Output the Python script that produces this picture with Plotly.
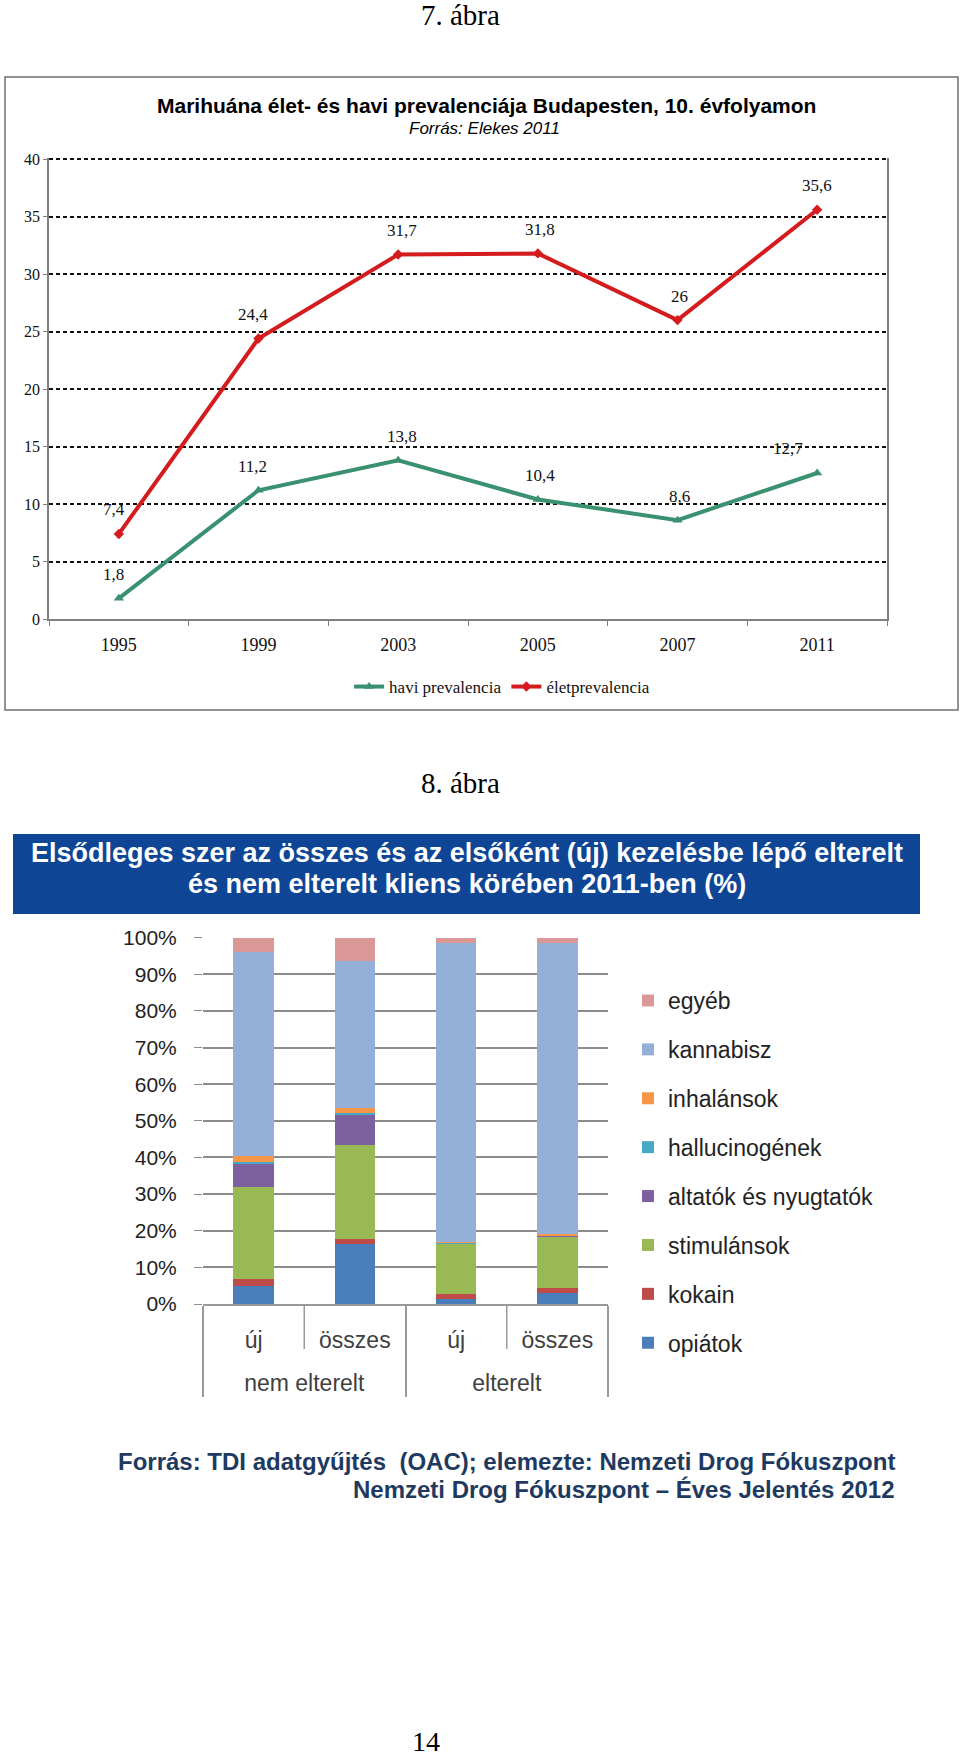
import plotly.graph_objects as go

W, H = 960, 1760

# 7. ábra - marihuána prevalencia
years = ["1995", "1999", "2003", "2005", "2007", "2011"]
havi = [1.8, 11.2, 13.8, 10.4, 8.6, 12.7]
elet = [7.4, 24.4, 31.7, 31.8, 26.0, 35.6]

# 8. ábra - elsődleges szer (%)
groups = ["nem elterelt", "nem elterelt", "elterelt", "elterelt"]
subgroups = ["új", "összes", "új", "összes"]
opiatok = [5.0, 16.4, 1.3, 2.9]
kokain = [1.9, 1.3, 1.4, 1.6]
stimulansok = [25.1, 25.7, 13.8, 14.0]
altatok = [6.3, 8.2, 0.1, 0.2]
hallucinogenek = [0.4, 0.6, 0.1, 0.1]
inhalansok = [1.7, 1.3, 0.2, 0.2]
kannabisz = [55.6, 40.2, 81.7, 79.6]
egyeb = [4.0, 6.3, 1.4, 1.4]

SERIF = "Liberation Serif, Times New Roman, serif"
SANS = "Liberation Sans, Arial, sans-serif"
NARROW = "Liberation Sans Narrow, Arial Narrow, Liberation Sans, sans-serif"
GREEN = "#3a9170"
RED = "#d41c1f"
GREY = "#808080"
BAR_GREY = "#9a9a9a"


def px_x(v):
    return v / W


def px_y(v):
    return 1 - v / H


fig = go.Figure()

fig.add_trace(go.Scatter(
    x=years, y=havi, mode="lines+markers", name="havi prevalencia",
    line=dict(color=GREEN, width=4),
    marker=dict(symbol="triangle-up", size=9, color=GREEN),
    xaxis="x", yaxis="y", legend="legend",
))
fig.add_trace(go.Scatter(
    x=years, y=elet, mode="lines+markers", name="életprevalencia",
    line=dict(color=RED, width=4),
    marker=dict(symbol="diamond", size=8, color=RED),
    xaxis="x", yaxis="y", legend="legend",
))

# inner labels get an empty second line so the group labels sit lower
inner = [s + "<br>\u00a0" for s in subgroups]
bar_series = [
    ("opiátok", opiatok, "#4a7ebb"),
    ("kokain", kokain, "#be4b48"),
    ("stimulánsok", stimulansok, "#98b954"),
    ("altatók és nyugtatók", altatok, "#7d60a0"),
    ("hallucinogének", hallucinogenek, "#46aac5"),
    ("inhalánsok", inhalansok, "#f79646"),
    ("kannabisz", kannabisz, "#95b0d8"),
    ("egyéb", egyeb, "#d99795"),
]
for rank, (name, vals, col) in enumerate(bar_series):
    fig.add_trace(go.Bar(
        x=[groups, inner], y=vals, name=name, marker_color=col,
        marker_line_width=0, legendgroup=name, legendrank=100 - rank,
        xaxis="x2", yaxis="y2", legend="legend2",
    ))

# data labels for the line chart (x given as category index)
label_dx = [-5, -6, 4, 2, 2, 0]
annotations = []
for series, dxs in ((havi, label_dx[:5] + [-29]), (elet, label_dx)):
    for i, (v, dx) in enumerate(zip(series, dxs)):
        annotations.append(dict(
            x=i, y=v, xref="x", yref="y", text=f"{v:g}".replace(".", ","),
            showarrow=False, yshift=24, xshift=dx,
            font=dict(family=SERIF, size=17, color="#111"),
        ))
n_labels = len(annotations)

annotations += [
    dict(x=px_x(460), y=px_y(15), text="7. ábra",
         font=dict(family=SERIF, size=29, color="#000")),
    dict(x=px_x(486), y=px_y(105),
         text="<b>Marihuána élet- és havi prevalenciája Budapesten, 10. évfolyamon</b>",
         font=dict(family=SANS, size=21, color="#000")),
    dict(x=px_x(484), y=px_y(128), text="<i>Forrás: Elekes 2011</i>",
         font=dict(family=SANS, size=17, color="#000")),
    dict(x=px_x(460), y=px_y(783), text="8. ábra",
         font=dict(family=SERIF, size=29, color="#000")),
    dict(x=px_x(467), y=px_y(853),
         text="<b>Elsődleges szer az összes és az elsőként (új) kezelésbe lépő elterelt</b>",
         font=dict(family=SANS, size=27, color="#ffffff")),
    dict(x=px_x(467), y=px_y(884),
         text="<b>és nem elterelt kliens körében 2011-ben (%)</b>",
         font=dict(family=SANS, size=27, color="#ffffff")),
    dict(x=px_x(897), y=px_y(1461), xanchor="right",
         text="<b>Forrás: TDI adatgyűjtés  (OAC); elemezte: Nemzeti Drog Fókuszpont</b>",
         font=dict(family=NARROW, size=24, color="#1f3a60")),
    dict(x=px_x(897), y=px_y(1489), xanchor="right",
         text="<b>Nemzeti Drog Fókuszpont – Éves Jelentés 2012</b>",
         font=dict(family=NARROW, size=24, color="#1f3a60")),
    dict(x=px_x(426), y=px_y(1741), text="14",
         font=dict(family=SERIF, size=28, color="#000")),
]
for a in annotations[n_labels:]:
    a.update(xref="paper", yref="paper", showarrow=False, yanchor="middle")
    a.setdefault("xanchor", "center")

shapes = [
    dict(type="rect", xref="paper", yref="paper",
         x0=px_x(5), x1=px_x(958), y0=px_y(710), y1=px_y(77),
         line=dict(color="#707070", width=1.5), layer="below"),
    dict(type="rect", xref="paper", yref="paper",
         x0=px_x(13), x1=px_x(920), y0=px_y(914), y1=px_y(834),
         fillcolor="#0e4595", line=dict(width=0), layer="below"),
]
# short separators between "új" and "összes" inside each group
for xd in (0.25, 0.75):
    shapes.append(dict(type="line", xref="x2 domain", yref="paper",
                       x0=xd, x1=xd, y0=px_y(1304), y1=px_y(1349),
                       line=dict(color=BAR_GREY, width=1.5)))

fig.update_layout(
    width=W, height=H, template="none",
    margin=dict(l=0, r=0, t=0, b=0),
    paper_bgcolor="white", plot_bgcolor="white",
    font=dict(family=SANS, color="#222"),
    barmode="stack", bargap=0.6,
    annotations=annotations, shapes=shapes,
    xaxis=dict(
        domain=[px_x(49), px_x(887)], anchor="y", type="category",
        range=[-0.5, len(years) - 0.5],
        tickson="boundaries", ticks="outside", ticklen=5, tickcolor=GREY,
        showline=True, linecolor=GREY, linewidth=2, showgrid=False,
        tickfont=dict(family=SERIF, size=18, color="#111"),
        ticklabelstandoff=8,
    ),
    yaxis=dict(
        domain=[px_y(619), px_y(158)], anchor="x", range=[0, 40.1], dtick=5,
        showgrid=True, gridcolor="#111", griddash="4px,3px", gridwidth=2,
        showline=True, mirror=True, linecolor=GREY, linewidth=1.5,
        ticks="outside", ticklen=4, tickcolor=GREY, zeroline=False,
        tickfont=dict(family=SERIF, size=16, color="#111"),
    ),
    xaxis2=dict(
        domain=[px_x(203), px_x(608)], anchor="y2", type="multicategory",
        ticks="", showdividers=True, dividercolor=BAR_GREY, dividerwidth=1.5,
        showline=True, linecolor=BAR_GREY, linewidth=1.5, showgrid=False,
        tickfont=dict(family=SANS, size=23, color="#404040"),
        ticklabelstandoff=15,
    ),
    yaxis2=dict(
        domain=[px_y(1304), px_y(937)], anchor="x2", range=[0, 100.2], dtick=10,
        ticksuffix="%", showgrid=True, gridcolor="#8c8c8c", gridwidth=1.5,
        ticks="outside", ticklen=8, tickcolor="#8c8c8c", zeroline=False,
        showline=False, ticklabelstandoff=13,
        tickfont=dict(family=SANS, size=21, color="#222"),
    ),
    legend=dict(
        orientation="h", x=0.523, xanchor="center", y=px_y(687), yanchor="middle",
        font=dict(family=SERIF, size=17, color="#111"), bgcolor="rgba(0,0,0,0)",
    ),
    legend2=dict(
        x=px_x(628), xanchor="left", y=px_y(979), yanchor="top",
        traceorder="grouped", tracegroupgap=16, itemwidth=30,
        font=dict(family=SANS, size=23, color="#222"), bgcolor="rgba(0,0,0,0)",
    ),
)

# the page's default body margin would shift the figure by 8px
fig.write_html("out.html", config={"displayModeBar": False},
               post_script="document.body.style.margin='0';")
